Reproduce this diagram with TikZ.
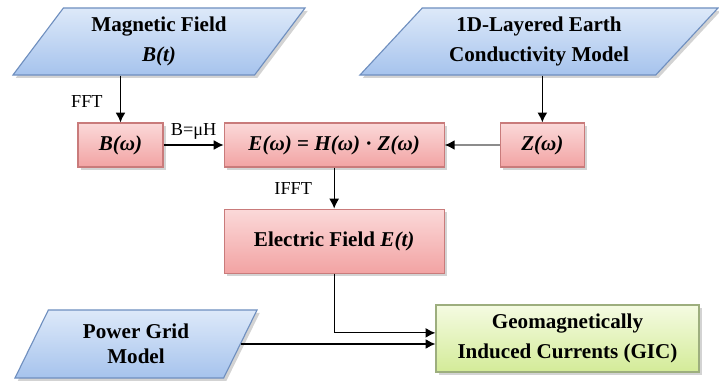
\documentclass[tikz,border=0pt]{standalone}
\usepackage{fontspec}
\setmainfont{Liberation Serif}
\usetikzlibrary{positioning,shapes.geometric,arrows.meta,shadows}
\definecolor{ioline}{HTML}{6F8FBF}
\definecolor{iotop}{HTML}{DDE9F9}
\definecolor{iobot}{HTML}{A6C3ED}
\definecolor{opline}{HTML}{C97B7B}
\definecolor{optop}{HTML}{FBD9D9}
\definecolor{opbot}{HTML}{F2A3A3}
\definecolor{resline}{HTML}{9DAE7E}
\definecolor{restop}{HTML}{F5FBE2}
\definecolor{resbot}{HTML}{D3EB98}
\tikzset{
  io/.style={trapezium, trapezium stretches body, minimum height=1.675cm, text centered, align=center, draw=ioline, top color=iotop, bottom color=iobot, drop shadow={opacity=0.35, shadow xshift=2pt, shadow yshift=-2pt}, font=\fontsize{15}{21}\selectfont\bfseries},
  op/.style={rectangle, minimum height=1.1cm, text centered, draw=opline, top color=optop, bottom color=opbot, drop shadow={opacity=0.35, shadow xshift=2pt, shadow yshift=-2pt}, font=\fontsize{15}{20}\selectfont\bfseries},
  res/.style={rectangle, minimum height=1.675cm, text centered, align=center, draw=resline, top color=restop, bottom color=resbot, drop shadow={opacity=0.35, shadow xshift=2pt, shadow yshift=-2pt}, font=\fontsize{15}{21}\selectfont\bfseries},
  lbl/.style={font=\fontsize{13}{15}\selectfont},
  node distance=7mm
}

\begin{document}
\begin{tikzpicture}[x=0.025cm, y=-0.025cm, >={Latex[length=7pt,width=7pt]}, line width=0.8pt]
\useasboundingbox (0,0) rectangle (719,381);
% inputs
\node[io, trapezium left angle=49, trapezium right angle=131, minimum width=7.3cm] (mag) at (159,41.5) {Magnetic Field\\\textit{B(t)}};
\node[io, trapezium left angle=43, trapezium right angle=137, minimum width=8.95cm] (earth) at (539,41.5) {1D-Layered Earth\\Conductivity Model};
\node[io, trapezium left angle=56, trapezium right angle=124, minimum width=6.05cm, minimum height=1.7cm, font=\fontsize{15}{18}\selectfont\bfseries] (grid) at (136,344) {Power Grid\\Model};
% frequency domain
\node[op, minimum width=2.125cm] (bw) at (120.5,145) {\textit{B(ω)}};
\node[op, minimum width=5.5cm, right=1.5cm of bw] (ew) {\textit{E(ω)} = \textit{H(ω)} · \textit{Z(ω)}};
\node[op, minimum width=2.1cm, right=1.375cm of ew] (zw) {\textit{Z(ω)}};
\node[op, minimum width=5.5cm, minimum height=1.6cm, below=1.025cm of ew] (et) {Electric Field \textit{E(t)}};
% output
\node[res, minimum width=6.575cm] (gic) at (567.5,338.5) {Geomagnetically\\Induced Currents (GIC)};

\draw[->] (bw.north |- mag.south) -- node[lbl, left=9pt, pos=0.55] {FFT} (bw.north);
\draw[->] (bw) -- node[lbl, above] {B=μH} (ew);
\draw[->] (zw.north |- earth.south) -- (zw.north);
\draw[-{Latex[length=7pt,width=7pt,color=black]}, draw=black!45, line width=1pt] (zw) -- (ew);
\draw[->] (ew) -- node[lbl, left=12pt] {IFFT} (et);
\draw[->] (et.south) |- ([yshift=4pt]gic.west);
\draw[->] (grid.east) -- (grid.east -| gic.west);
\end{tikzpicture}
\end{document}
